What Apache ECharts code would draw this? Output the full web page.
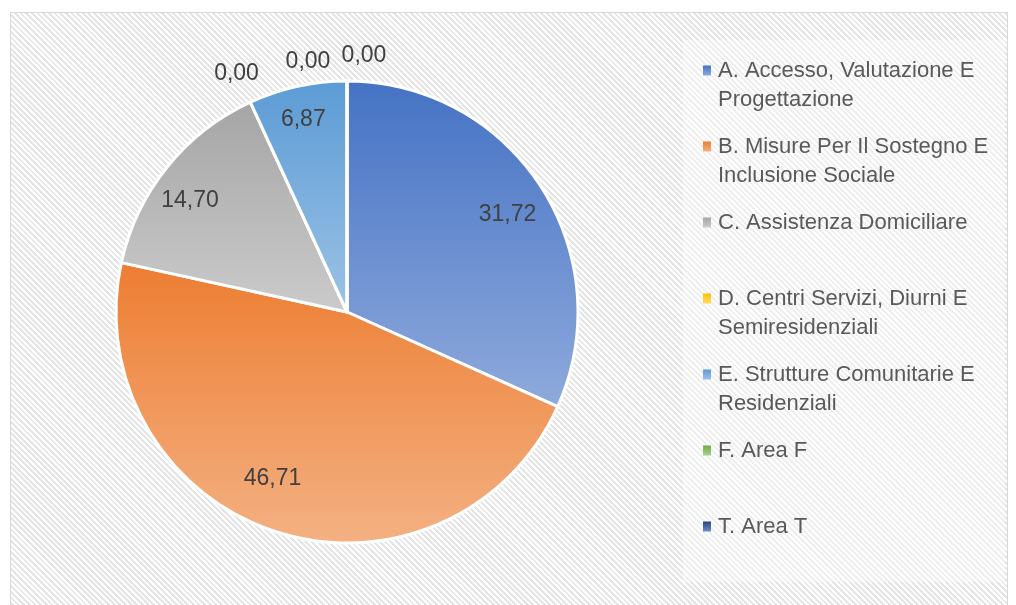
<!DOCTYPE html>
<html>
<head>
<meta charset="utf-8">
<script src="https://cdn.jsdelivr.net/npm/echarts@6/dist/echarts.min.js"></script>
<style>
  html, body { margin: 0; padding: 0; background: #fff; }
  #frame {
    position: absolute; left: 10px; top: 12px; width: 996px; height: 600px;
    border: 1px solid #d9d9d9;
    background: repeating-linear-gradient(45deg, #ffffff 0px, #ffffff 2px, #e5e5e5 2px, #e5e5e5 4px);
  }
  #main { position: absolute; left: 0; top: 0; width: 1016px; height: 605px; }
</style>
</head>
<body>
<div id="frame"></div>
<div id="main"></div>
<script>
// categorie (a capo come nel grafico originale)
var categories = [
  'A. Accesso, Valutazione E\nProgettazione',
  'B. Misure Per Il Sostegno E\nInclusione Sociale',
  'C. Assistenza Domiciliare',
  'D. Centri Servizi, Diurni E\nSemiresidenziali',
  'E. Strutture Comunitarie E\nResidenziali',
  'F. Area F',
  'T. Area T'
]
var values = [31.72, 46.71, 14.70, 0, 6.87, 0, 0]

// colori sfumati (alto -> basso)
var topColors = ['#4472C4', '#ED7D31', '#A5A5A5', '#FFC000', '#5B9BD5', '#70AD47', '#264478']
var bottomColors = ['#8FAADC', '#F4B183', '#CBCBCB', '#FFD966', '#9DC3E6', '#A9D18E', '#6F8FC9']

// ritocco posizione etichette (come nel grafico Excel)
var labelOffsets = [[1, 6], [-15, -14], [-9, 8], [-31, -66], [-3, -7], [-39, -60], [17, -66]]

var center = [347, 312]
var radius = 231

function fmt (v) {
  return v.toFixed(2).replace('.', ',')
}

var mainData = categories.map(function (name, i) {
  return {
    name: name,
    value: values[i],
    itemStyle: {
      color: {
        type: 'linear', x: 0, y: 0, x2: 0, y2: 1,
        colorStops: [
          { offset: 0, color: topColors[i] },
          { offset: 1, color: bottomColors[i] }
        ],
        global: false
      }
    }
  }
})

var labelData = categories.map(function (name, i) {
  return { name: name, value: values[i], label: { offset: labelOffsets[i] } }
})

var myChart = echarts.init(document.getElementById('main'))
var option = {
  backgroundColor: 'transparent',
  animation: false,
  graphic: [{
    type: 'rect',
    z: 0,
    silent: true,
    shape: { x: 683, y: 40, width: 322, height: 542 },
    style: { fill: 'rgba(255,255,255,0.4)' }
  }],
  legend: {
    orient: 'vertical',
    left: 698,
    top: 22,
    itemWidth: 8,
    itemHeight: 10,
    itemGap: -11,
    icon: 'rect',
    itemStyle: { borderWidth: 0 },
    data: categories,
    formatter: function (name) {
      return '\n' + name + (name.indexOf('\n') < 0 ? '\n' : '')
    },
    textStyle: {
      color: '#595959',
      fontFamily: 'Liberation Sans',
      fontSize: 22,
      lineHeight: 29,
      padding: [0, 0, 0, 2]
    }
  },
  series: [
    {
      name: 'main',
      type: 'pie',
      center: center,
      radius: radius,
      startAngle: 90,
      clockwise: true,
      avoidLabelOverlap: false,
      itemStyle: { borderColor: '#ffffff', borderWidth: 3 },
      label: { show: false },
      labelLine: { show: false },
      emphasis: { disabled: true },
      data: mainData
    },
    {
      // serie trasparente solo per le etichette (piu' vicine al bordo)
      name: 'labels',
      type: 'pie',
      center: center,
      radius: [143, radius],
      startAngle: 90,
      clockwise: true,
      silent: true,
      avoidLabelOverlap: false,
      itemStyle: { color: 'rgba(0,0,0,0)', borderWidth: 0 },
      label: {
        show: true,
        position: 'inside',
        color: '#404040',
        fontFamily: 'Liberation Sans',
        fontSize: 23,
        formatter: function (p) { return fmt(p.value) }
      },
      labelLine: { show: false },
      emphasis: { disabled: true },
      data: labelData
    }
  ]
}
myChart.setOption(option)
</script>
</body>
</html>
